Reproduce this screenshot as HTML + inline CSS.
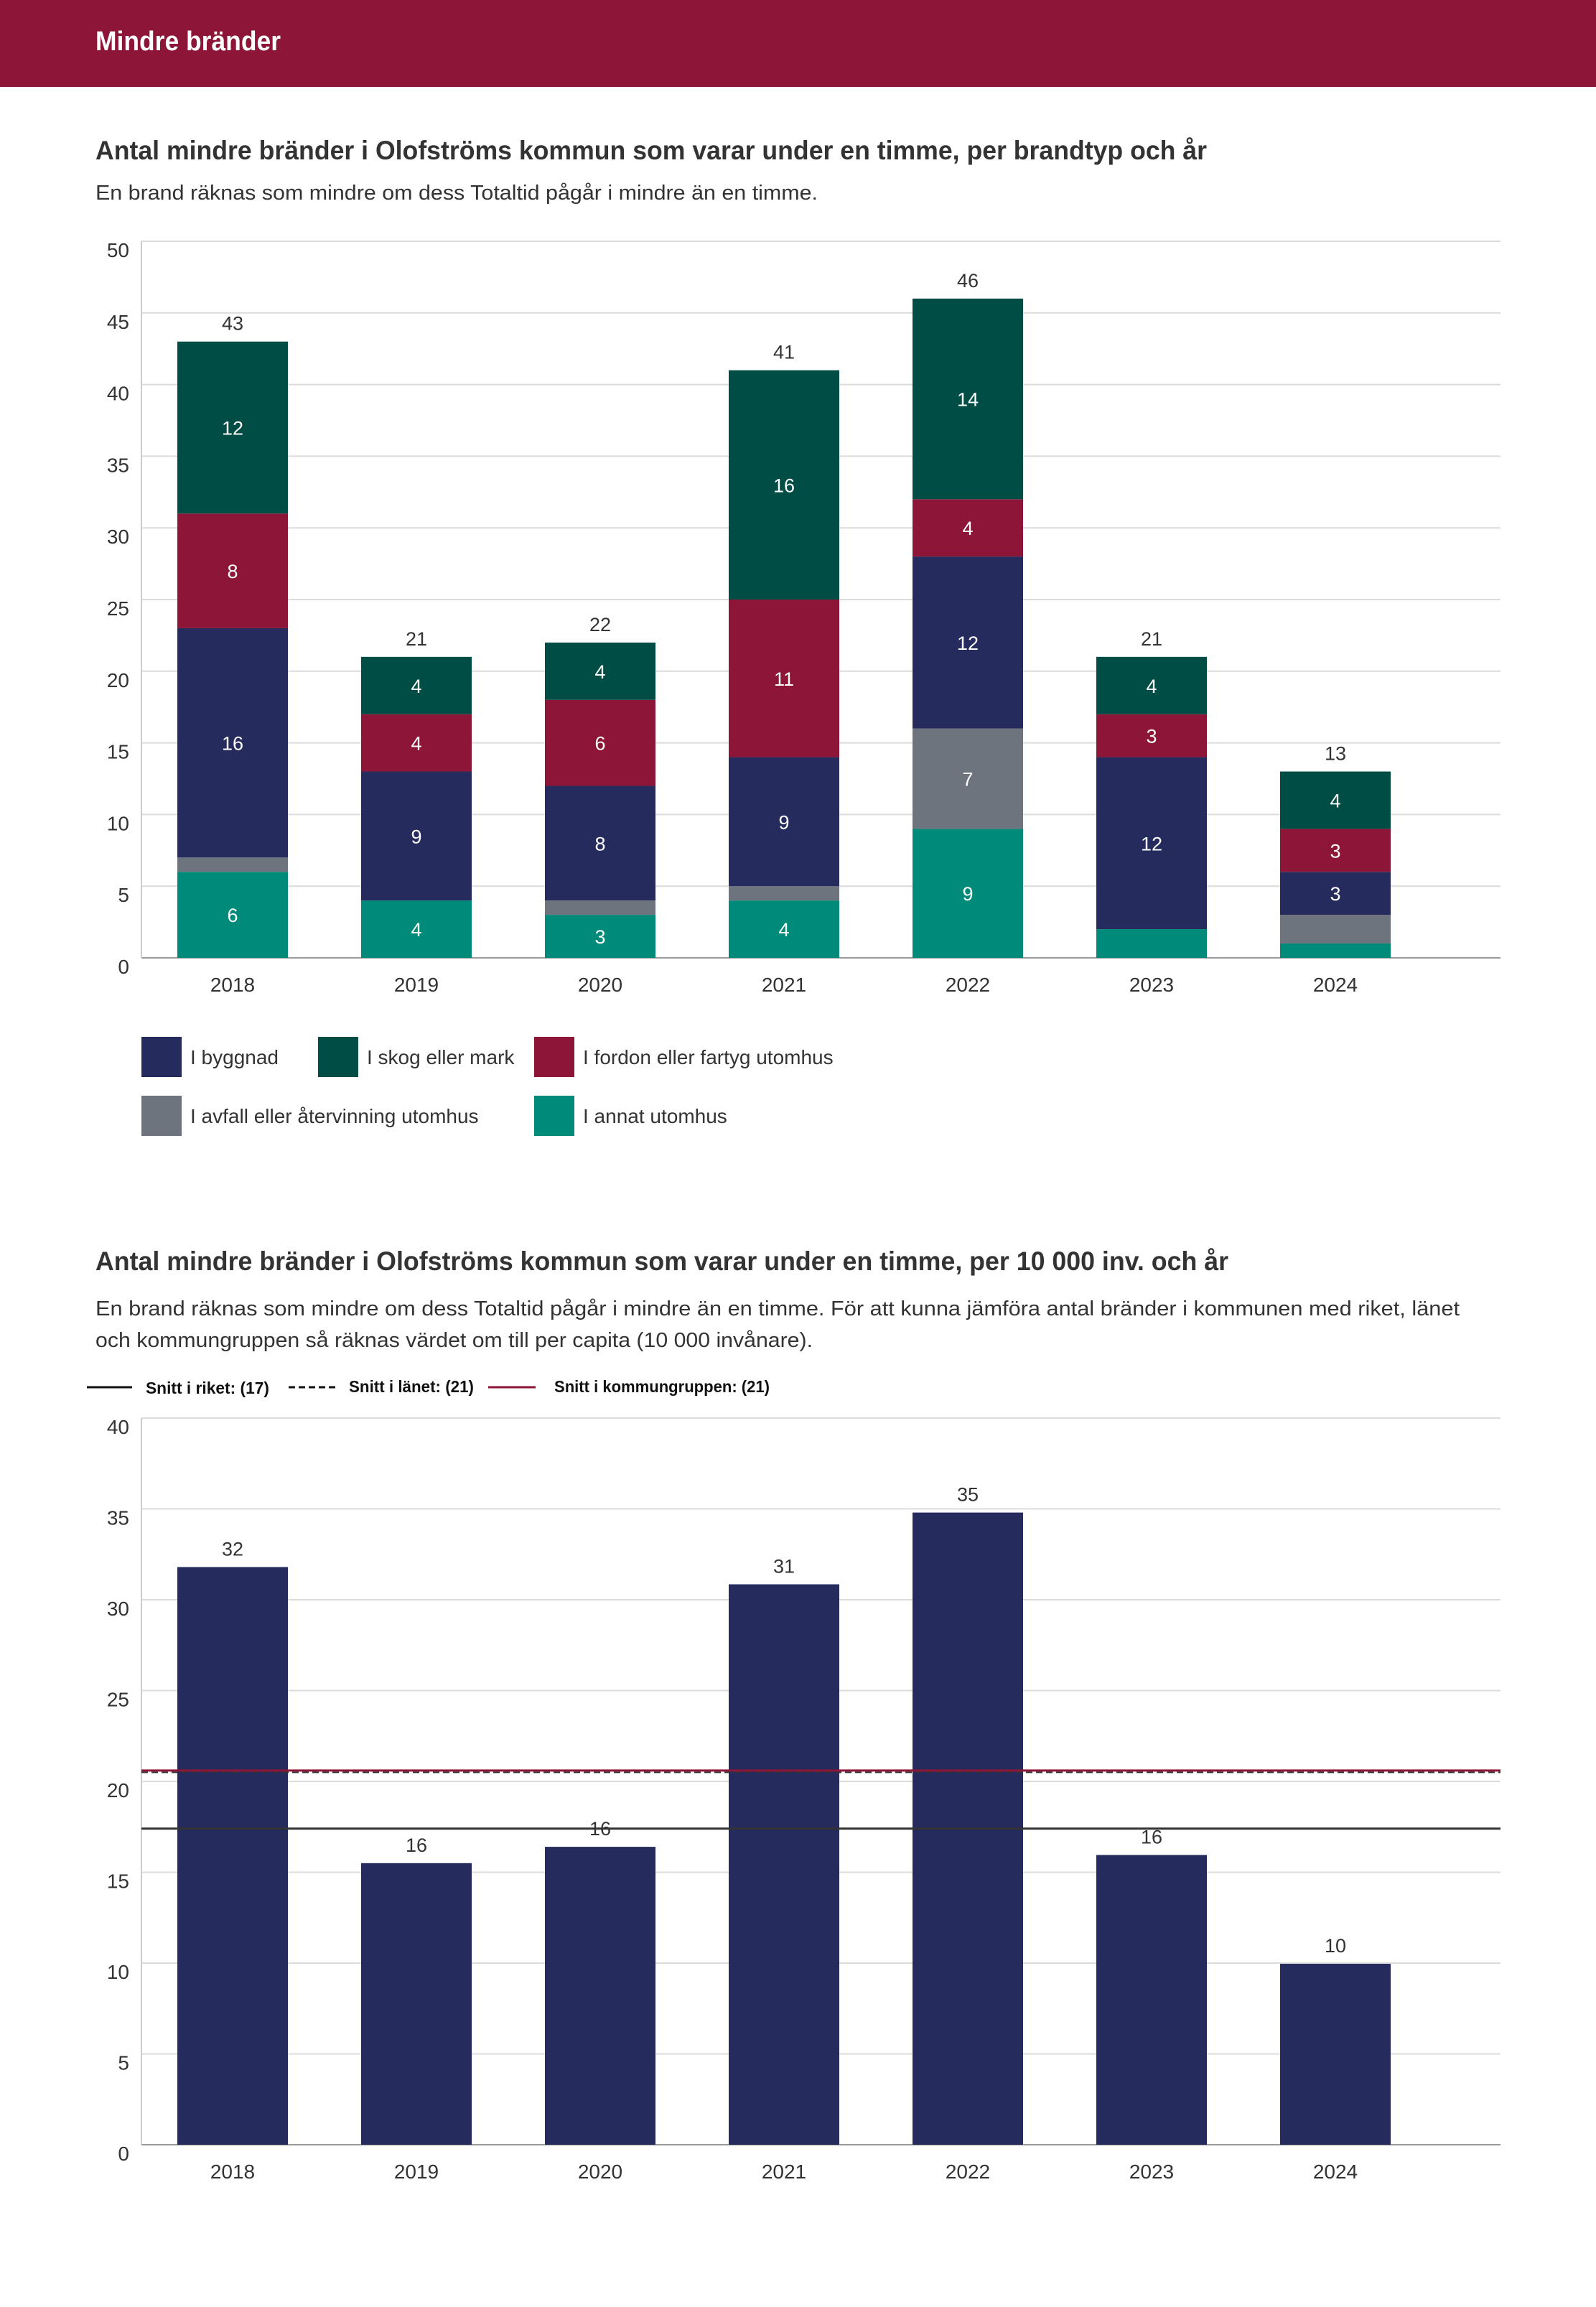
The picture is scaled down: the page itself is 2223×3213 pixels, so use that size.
<!DOCTYPE html>
<html><head><meta charset="utf-8">
<style>
html,body{margin:0;padding:0;background:#fff;}
svg{display:block;font-family:"Liberation Sans",sans-serif;}
</style></head>
<body>
<svg id="page" width="2223" height="3213" viewBox="0 0 2223 3213" xmlns="http://www.w3.org/2000/svg">
<rect x="0" y="0" width="2223" height="121" fill="#8c1538"/>
<text x="133" y="70" fill="#fff" font-size="38" font-weight="bold" textLength="258" lengthAdjust="spacingAndGlyphs">Mindre bränder</text>

<text x="133" y="222" fill="#333" font-size="37" font-weight="bold" textLength="1548" lengthAdjust="spacingAndGlyphs">Antal mindre bränder i Olofströms kommun som varar under en timme, per brandtyp och år</text>
<text x="133" y="278" fill="#333" font-size="29" textLength="1006" lengthAdjust="spacingAndGlyphs">En brand räknas som mindre om dess Totaltid pågår i mindre än en timme.</text>
<g id="chart1"></g>
<g id="legend1"></g>

<text x="133" y="1769" fill="#333" font-size="37" font-weight="bold" textLength="1578" lengthAdjust="spacingAndGlyphs">Antal mindre bränder i Olofströms kommun som varar under en timme, per 10 000 inv. och år</text>
<text x="133" y="1832" fill="#333" font-size="29" textLength="1900" lengthAdjust="spacingAndGlyphs">En brand räknas som mindre om dess Totaltid pågår i mindre än en timme. För att kunna jämföra antal bränder i kommunen med riket, länet</text>
<text x="133" y="1876" fill="#333" font-size="29" textLength="999" lengthAdjust="spacingAndGlyphs">och kommungruppen så räknas värdet om till per capita (10 000 invånare).</text>
<g>
<line x1="121" y1="1932" x2="184" y2="1932" stroke="#111" stroke-width="3"/>
<text x="203" y="1941" font-size="23" font-weight="bold" fill="#111" textLength="172" lengthAdjust="spacingAndGlyphs">Snitt i riket: (17)</text>
<line x1="402" y1="1932" x2="467" y2="1932" stroke="#111" stroke-width="3" stroke-dasharray="9,5"/>
<text x="486" y="1939" font-size="23" font-weight="bold" fill="#111" textLength="174" lengthAdjust="spacingAndGlyphs">Snitt i länet: (21)</text>
<line x1="680" y1="1932" x2="746" y2="1932" stroke="#8c1538" stroke-width="3"/>
<text x="772" y="1939" font-size="23" font-weight="bold" fill="#111" textLength="300" lengthAdjust="spacingAndGlyphs">Snitt i kommungruppen: (21)</text>
</g>
<g id="chart2"></g>
</svg>
<script>
const years = ["2018","2019","2020","2021","2022","2023","2024"];
const annat = [6,4,3,4,9,2,1];
const avfall = [1,0,1,1,7,0,2];
const byggnad = [16,9,8,9,12,12,3];
const fordon = [8,4,6,11,4,3,3];
const skog = [12,4,4,16,14,4,4];
const ticks1 = [0,5,10,15,20,25,30,35,40,45,50];

const perCapita = [31.8,15.5,16.4,30.85,34.8,15.95,9.96];
const perCapitaLabels = ["32","16","16","31","35","16","10"];
const ticks2 = [0,5,10,15,20,25,30,35,40];
const riket = 17.4;
const lanet = 20.5;
const kommungrupp = 20.6;

const NS = "http://www.w3.org/2000/svg";
function mk(tag, attrs, parent){const e=document.createElementNS(NS,tag);for(const k in attrs)e.setAttribute(k,attrs[k]);parent.appendChild(e);return e;}
const L=197,R=2090,BW=154;
function xc(i){return 324+i*256;}

// chart 1
const c1=document.getElementById('chart1');
const y1=v=>1334-v*(998/50);
ticks1.forEach(t=>{
  const g=mk('line',{x1:L,x2:R,y1:y1(t),y2:y1(t),stroke:t===0?'#999':'#dcdcdc','stroke-width':2},c1);
  
  
  const tx=mk('text',{x:180,y:y1(t)+22,'text-anchor':'end','font-size':28,fill:'#333'},c1);
  
  
  tx.textContent=t;
});
const ax1=mk('line',{x1:L,x2:L,y1:y1(50),y2:y1(0),stroke:'#ccc','stroke-width':2},c1);


const series=[[annat,'#008a7a','annat'],[avfall,'#6e747d','avfall'],[byggnad,'#252b5c','byggnad'],[fordon,'#8c1538','fordon'],[skog,'#004d45','skog']];
years.forEach((yr,i)=>{
  let base=0;
  series.forEach(s=>{
    const v=s[0][i];
    if(v>0){
      const r=mk('rect',{x:xc(i)-BW/2,y:y1(base+v),width:BW,height:y1(base)-y1(base+v),fill:s[1]},c1);
      
      
      if(v>=3){
        const t=mk('text',{x:xc(i),y:(y1(base)+y1(base+v))/2+10,'text-anchor':'middle','font-size':27,fill:'#fff'},c1);
        
        
        t.textContent=v;
      }
    }
    base+=v;
  });
  const tt=mk('text',{x:xc(i),y:y1(base)-16,'text-anchor':'middle','font-size':27,fill:'#333'},c1);
  
  
  tt.textContent=base;
  const xl=mk('text',{x:xc(i),y:1381,'text-anchor':'middle','font-size':28,fill:'#333'},c1);
  
  
  xl.textContent=yr;
});
// legend 1
const lg=document.getElementById('legend1');
const items=[['I byggnad','#252b5c',197,1444],['I skog eller mark','#004d45',443,1444],['I fordon eller fartyg utomhus','#8c1538',744,1444],['I avfall eller återvinning utomhus','#6e747d',197,1526],['I annat utomhus','#008a7a',744,1526]];
items.forEach(it=>{
  const s=mk('rect',{x:it[2],y:it[3],width:56,height:56,fill:it[1]},lg);
  
  
  const t=mk('text',{x:it[2]+68,y:it[3]+38,'font-size':28,fill:'#333'},lg);
  
  
  t.textContent=it[0];
});

// chart 2
const c2=document.getElementById('chart2');
const y2=v=>2987-v*(1012/40);
ticks2.forEach(t=>{
  const g=mk('line',{x1:L,x2:R,y1:y2(t),y2:y2(t),stroke:t===0?'#999':'#dcdcdc','stroke-width':2},c2);
  
  
  const tx=mk('text',{x:180,y:y2(t)+22,'text-anchor':'end','font-size':28,fill:'#333'},c2);
  
  
  tx.textContent=t;
});
const ax2=mk('line',{x1:L,x2:L,y1:y2(40),y2:y2(0),stroke:'#ccc','stroke-width':2},c2);


years.forEach((yr,i)=>{
  const r=mk('rect',{x:xc(i)-BW/2,y:y2(perCapita[i]),width:BW,height:y2(0)-y2(perCapita[i]),fill:'#252b5c'},c2);
  
  
  const t=mk('text',{x:xc(i),y:y2(perCapita[i])-16,'text-anchor':'middle','font-size':27,fill:'#333'},c2);
  
  
  t.textContent=perCapitaLabels[i];
  const xl=mk('text',{x:xc(i),y:3034,'text-anchor':'middle','font-size':28,fill:'#333'},c2);
  
  
  xl.textContent=yr;
});
const lr=mk('line',{x1:L,x2:R,y1:y2(riket),y2:y2(riket),stroke:'#333','stroke-width':3},c2);


const ll=mk('line',{x1:L,x2:R,y1:y2(lanet),y2:y2(lanet),stroke:'#333','stroke-width':2,'stroke-dasharray':'9,5'},c2);


const lk=mk('line',{x1:L,x2:R,y1:y2(kommungrupp),y2:y2(kommungrupp),stroke:'#8c1538','stroke-width':3},c2);


</script>
</body></html>
